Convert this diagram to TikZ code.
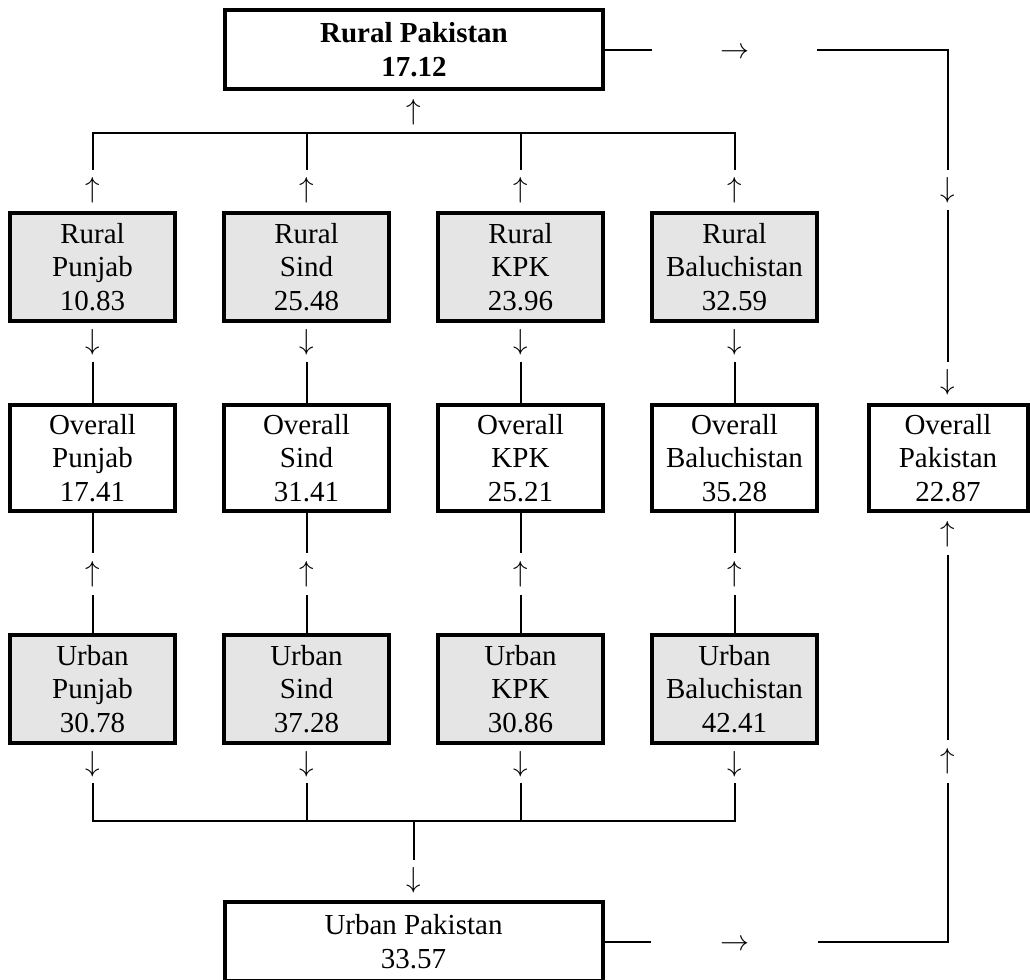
\RequirePackage{fix-cm}
\documentclass[tikz,border=0pt]{standalone}
\usepackage{fontspec}
\setmainfont{Liberation Serif}
\begin{document}
\begin{tikzpicture}[x=1bp,y=-1bp,
  every node/.style={font=\fontsize{29bp}{33.3bp}\selectfont, align=center, inner sep=0pt},
  box/.style={draw, line width=4bp, minimum width=165bp, minimum height=108bp},
  subbox/.style={box, fill=black!10},
  ovbox/.style={box, minimum height=106bp},
  bigbox/.style={draw, line width=4bp, minimum width=378bp, minimum height=79bp},
  arrnode/.style={minimum width=24bp, minimum height=#1},
  harr/.style={minimum width=165bp, minimum height=30bp},
  conn/.style={line width=2bp},
]
\useasboundingbox (0,0) rectangle (1030,980);

% top and bottom boxes
\node[bigbox, font=\fontsize{29bp}{33.3bp}\selectfont\bfseries] (rpk) at (414,49.5) {Rural Pakistan\\17.12};
\node[bigbox] (upk) at (413.5,941.5) {Urban Pakistan\\33.57};

% province boxes
\node[subbox] (rp1) at (92.5,267) {Rural\\Punjab\\10.83};
\node[subbox] (rp2) at (306.5,267) {Rural\\Sind\\25.48};
\node[subbox] (rp3) at (520.5,267) {Rural\\KPK\\23.96};
\node[subbox] (rp4) at (734.5,267) {Rural\\Baluchistan\\32.59};

\node[ovbox] (ov1) at (92.5,458) {Overall\\Punjab\\17.41};
\node[ovbox] (ov2) at (306.5,458) {Overall\\Sind\\31.41};
\node[ovbox] (ov3) at (520.5,458) {Overall\\KPK\\25.21};
\node[ovbox] (ov4) at (734.5,458) {Overall\\Baluchistan\\35.28};
\node[ovbox, minimum width=159bp] (ovp) at (948,458) {Overall\\Pakistan\\22.87};

\node[subbox] (ub1) at (92.5,689) {Urban\\Punjab\\30.78};
\node[subbox] (ub2) at (306.5,689) {Urban\\Sind\\37.28};
\node[subbox] (ub3) at (520.5,689) {Urban\\KPK\\30.86};
\node[subbox] (ub4) at (734.5,689) {Urban\\Baluchistan\\42.41};

% arrow glyph nodes
\node[arrnode=42bp] (a0) at (413.5,112) {$\uparrow$};
\foreach \i/\x in {1/92.5,2/306.5,3/520.5,4/734.5}{
  \node[arrnode=41bp] (a1\i) at (\x,190.5) {$\uparrow$};
  \node[arrnode=39bp] (a2\i) at (\x,342.5) {$\downarrow$};
  \node[arrnode=42bp] (a3\i) at (\x,574) {$\uparrow$};
  \node[arrnode=38bp] (a4\i) at (\x,764) {$\downarrow$};
}
\node[arrnode=40bp] (a5) at (413.5,880) {$\downarrow$};
\node[harr] (h1) at (734.5,49.5) {\raisebox{-4bp}[\height][\depth]{$\rightarrow$}};
\node[harr, minimum width=167bp] (h2) at (734.5,941.5) {\raisebox{-4bp}[\height][\depth]{$\rightarrow$}};
\node[arrnode=40bp] (r1) at (948,190) {$\downarrow$};
\node[arrnode=41bp] (r2) at (948,382.5) {$\downarrow$};
\node[arrnode=42bp] (r3) at (948,534) {$\uparrow$};
\node[arrnode=43bp] (r4) at (948,761.5) {$\uparrow$};

\coordinate (busT) at (413.5,133);
\coordinate (busB) at (413.5,821);

% top bus
\draw[conn] (a11.north) |- (busT) -| (a14.north);
\draw[conn] (a12.north) -- (a12.north |- busT);
\draw[conn] (a13.north) -- (a13.north |- busT);

% columns
\foreach \i in {1,2,3,4}{
  \draw[conn] (a2\i.south) -- (ov\i.north);
  \draw[conn] (ov\i.south) -- (a3\i.north);
  \draw[conn] (a3\i.south) -- (ub\i.north);
}

% bottom bus
\draw[conn] (a41.south) |- (busB) -| (a44.south);
\draw[conn] (a42.south) -- (a42.south |- busB);
\draw[conn] (a43.south) -- (a43.south |- busB);
\draw[conn] (busB) -- (a5.north);

% right side
\draw[conn] (rpk.east) -- (h1.west);
\draw[conn] (h1.east) -| (r1.north);
\draw[conn] (r1.south) -- (r2.north);
\draw[conn] (r3.south) -- (r4.north);
\draw[conn] (upk.east) -- (h2.west);
\draw[conn] (h2.east) -| (r4.south);
\end{tikzpicture}
\end{document}
